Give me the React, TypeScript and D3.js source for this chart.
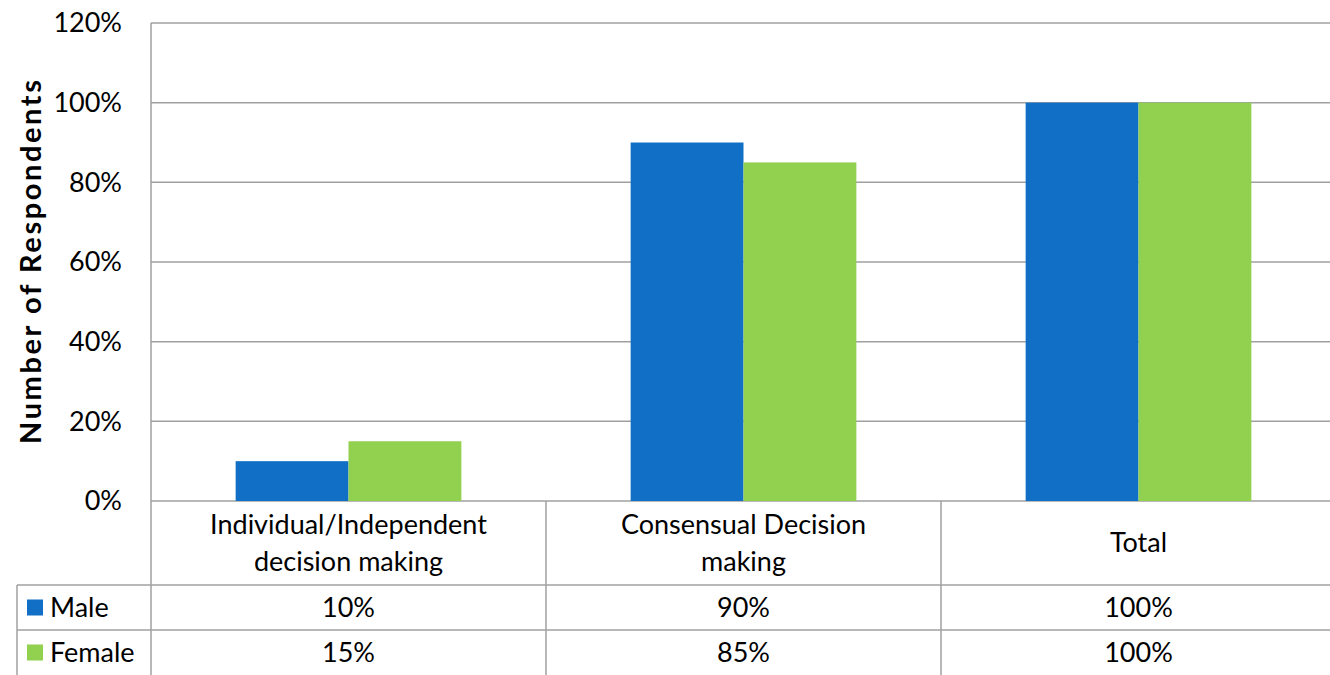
import React from "react";
import * as d3 from "d3";

const categories = ["Individual/Independent decision making", "Consensual Decision making", "Total"];
const categoryLines = [["Individual/Independent", "decision making"], ["Consensual Decision", "making"], ["Total"]];
const seriesNames = ["Male", "Female"];
const maleValues = [10, 90, 100];
const femaleValues = [15, 85, 100];
const yTicks = [0, 20, 40, 60, 80, 100, 120];
const colors = ["#1170C6", "#92D050"];

const W = 1330, H = 675;
const left = 151, right = 1336, top = 23, bottom = 501;
const headerBottom = 585, row1Bottom = 630, row2Bottom = 675;
const legendLeft = 17;
const font = "Lato, 'Open Sans', sans-serif";
const gridColor = "#A0A0A0";
const fs = 27;

export default function App() {
  const x = d3.scaleBand<string>().domain(categories).range([left, right]).paddingInner(0).paddingOuter(0);
  const xs = d3.scaleBand<string>().domain(seriesNames).range([0, x.bandwidth()]).paddingInner(0).paddingOuter(0.75);
  const y = d3.scaleLinear().domain([0, 120]).range([bottom, top]);
  const series = [maleValues, femaleValues];
  const rowsY = [[headerBottom, row1Bottom], [row1Bottom, row2Bottom]];

  return (
    <svg width={W} height={H} style={{ position: "absolute", left: 0, top: 0, background: "#fff" }} fontFamily={font}>
      {yTicks.map((t) => (
        <g key={t}>
          <line x1={left} x2={right} y1={y(t)} y2={y(t)} stroke={gridColor} strokeWidth={1.5} />
          <text x={122} y={y(t)} dy="0.35em" textAnchor="end" fontSize={fs} fill="#000">{t}%</text>
        </g>
      ))}
      {categories.map((c, ci) =>
        series.map((vals, si) => (
          <rect key={c + si} x={(x(c) as number) + (xs(seriesNames[si]) as number)} width={xs.bandwidth()}
            y={y(vals[ci])} height={y(0) - y(vals[ci])} fill={colors[si]} />
        ))
      )}
      {/* axis / table lines */}
      <line x1={left} x2={left} y1={top} y2={row2Bottom} stroke={gridColor} strokeWidth={1.5} />
      {categories.map((c) => (
        <line key={"v" + c} x1={(x(c) as number) + x.bandwidth()} x2={(x(c) as number) + x.bandwidth()} y1={bottom} y2={row2Bottom} stroke={gridColor} strokeWidth={1.5} />
      ))}
      <line x1={legendLeft} x2={right} y1={headerBottom} y2={headerBottom} stroke={gridColor} strokeWidth={1.5} />
      <line x1={legendLeft} x2={right} y1={row1Bottom} y2={row1Bottom} stroke={gridColor} strokeWidth={1.5} />
      <line x1={legendLeft} x2={legendLeft} y1={headerBottom} y2={row2Bottom} stroke={gridColor} strokeWidth={1.5} />
      {categories.map((c, ci) => {
        const lines = categoryLines[ci];
        const cx = (x(c) as number) + x.bandwidth() / 2;
        const mid = (bottom + headerBottom) / 2;
        return (
          <text key={"h" + c} x={cx} textAnchor="middle" fontSize={fs} fill="#000">
            {lines.map((l, li) => (
              <tspan key={li} x={cx} y={mid + (li - (lines.length - 1) / 2) * 37} dy="0.35em">{l}</tspan>
            ))}
          </text>
        );
      })}
      {seriesNames.map((s, si) => {
        const [y0, y1] = rowsY[si];
        const cy = (y0 + y1) / 2;
        return (
          <g key={s}>
            <rect x={27} y={cy - 8} width={16} height={16} fill={colors[si]} />
            <text x={50} y={cy} dy="0.35em" fontSize={fs} fill="#000">{s}</text>
            {categories.map((c, ci) => (
              <text key={c} x={(x(c) as number) + x.bandwidth() / 2} y={cy} dy="0.35em" textAnchor="middle" fontSize={fs} fill="#000">
                {series[si][ci]}%
              </text>
            ))}
          </g>
        );
      })}
      <text transform={`translate(31, ${(top + bottom) / 2}) rotate(-90)`} textAnchor="middle" dy="0.35em" fontSize={29} fontWeight="bold" fill="#000"
        textLength={364} lengthAdjust="spacing">
        Number of Respondents
      </text>
    </svg>
  );
}
